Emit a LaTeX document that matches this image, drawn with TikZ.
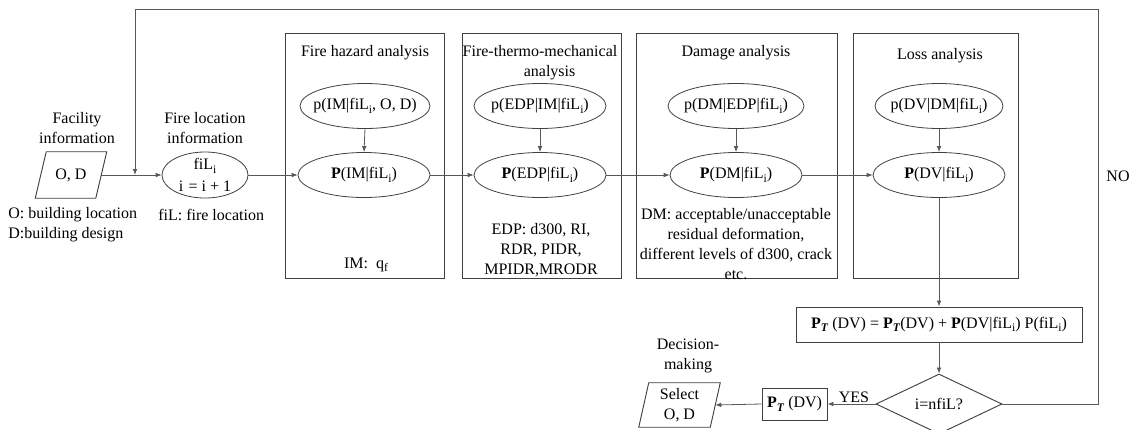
\documentclass[tikz,border=0pt]{standalone}
\usepackage{fontspec}
\setmainfont{Liberation Serif}
\usetikzlibrary{shapes.geometric,arrows.meta,calc}
\newcommand\lo[1]{\raisebox{-0.45ex}{\fontsize{8.7}{8.7}\selectfont #1}}
\begin{document}
\begin{tikzpicture}[x=0.75pt,y=-0.75pt,
  font=\fontsize{12}{15}\selectfont,
  ln/.style={draw=black!65, line width=0.6pt},
  arr/.style={ln, -{Latex[length=4.5pt,width=3.5pt]}},
  panel/.style={draw=black!75, line width=0.7pt},
  ell/.style={ellipse, draw=black!75, line width=0.6pt, inner sep=0pt,
    minimum width=99pt, minimum height=33.75pt},
  txt/.style={align=center, inner sep=0pt},
  bx/.style={rectangle, draw=black!75, line width=0.7pt, inner sep=0pt}]

\useasboundingbox (0,0) rectangle (1137,429);

% panels
\draw[panel] (285,33) rectangle (444,278);
\draw[panel] (462,33) rectangle (621,278);
\draw[panel] (636,33) rectangle (837,278);
\draw[panel] (853,33) rectangle (1018,278);

% titles
\node[txt] (t1) at (365,53) {Fire hazard analysis};
\node[txt] (t2) at (540,62.5) {Fire-thermo-mechanical\\\hspace*{1.2em}analysis};
\node[txt] (t3) at (736,53) {Damage analysis};
\node[txt] (t4) at (940,56) {Loss analysis};

% facility
\node[txt] (fac) at (77,128) {Facility\\information};
\node[minimum width=45pt, minimum height=34.5pt, inner sep=0pt] (od) at (71,175) {O, D};
\draw[panel] ($(od.south west)+(-5.5,0)$) -- ($(od.north west)+(5.5,0)$)
  -- ($(od.north east)+(5.5,0)$) -- ($(od.south east)+(-5.5,0)$) -- cycle;
\node[txt, anchor=west] (odtxt) at (8,225) [align=left] {O: building location\\D:building design};

% fire location
\node[txt] (fli) at (205,128) {Fire location\\information};
\node[ell, minimum width=64.5pt, minimum height=34.5pt,
  label={[txt]center:fiL\lo{i}\\[1pt]i\,\,= i + 1}] (fil) at (205,175) {};
\node[txt, anchor=west] (filtxt) at (158,215) {fiL:\ fire location};

% ellipses
\node[ell, minimum width=97.5pt, label={center:p(IM|fiL\lo{i}, O, D)}] (pim1) at (365,106) {};
\node[ell, label={center:\textbf{P}(IM|fiL\lo{i})}] (pim) at (364,175) {};
\node[ell, label={center:p(EDP|IM|fiL\lo{i})}] (pedp1) at (540,106) {};
\node[ell, label={center:\textbf{P}(EDP|fiL\lo{i})}] (pedp) at (540,175) {};
\node[ell, minimum width=102pt, label={center:p(DM|EDP|fiL\lo{i})}] (pdm1) at (736,106) {};
\node[ell, label={center:\textbf{P}(DM|fiL\lo{i})}] (pdm) at (736,175) {};
\node[ell, minimum width=96pt, label={center:p(DV|DM|fiL\lo{i})}] (pdv1) at (939,106) {};
\node[ell, label={center:\textbf{P}(DV|fiL\lo{i})}] (pdv) at (939,175) {};

% bottom texts
\node[txt] (imq) at (366,265) {IM:\ \ q\lo{f}};
\node[txt] (edpt) at (541,250) {EDP: d300, RI,\\RDR, PIDR,\\MPIDR,MRODR};
\node[txt] (dmt) at (736,244) {DM: acceptable/unacceptable\\residual deformation,\\different levels of d300, crack\\etc.};

% lower chain
\node[bx, minimum width=214.5pt, minimum height=26.25pt] (pt) at (939,324.5)
  {\textbf{P}\lo{\textbf{\textit{T}}} (DV) = \textbf{P}\lo{\textbf{\textit{T}}}(DV) + \textbf{P}(DV|fiL\lo{i}) P(fiL\lo{i})};
\node[diamond, draw=black!75, line width=0.7pt, inner sep=0pt, minimum width=94.5pt,
  minimum height=45pt, label={center:i=nfiL?}] (dec) at (939,404) {};
\node[bx, minimum width=48.75pt, minimum height=24pt] (ptd) at (794.5,404)
  {\textbf{P}\lo{\textbf{\textit{T}}} (DV)};
\node[txt, minimum width=53.25pt, minimum height=33pt] (sel) at (679.5,405) {Select\\O, D};
\draw[panel] ($(sel.south west)+(-5,0)$) -- ($(sel.north west)+(5,0)$)
  -- ($(sel.north east)+(5,0)$) -- ($(sel.south east)+(-5,0)$) -- cycle;
\node[txt] (dmk) at (688,356) {Decision-\\making};

% connectors
\coordinate (j) at (135,175);
\coordinate (ne) at (1098,9);
\draw[arr] (od.east) -- (fil.west);
\draw[arr] (fil.east) -- (pim.west);
\draw[arr] (pim1.south) -- (pim.north);
\draw[arr] (pedp1.south) -- (pedp.north);
\draw[arr] (pdm1.south) -- (pdm.north);
\draw[arr] (pdv1.south) -- (pdv.north);
\draw[arr] (pim.east) -- (pedp.west);
\draw[arr] (pedp.east) -- (pdm.west);
\draw[arr] (pdm.east) -- (pdv.west);
\draw[arr] (pdv.south) -- (pt.north);
\draw[arr] (pt.south) -- (dec.north);
\draw[arr] (dec.west) -- node[above, inner sep=1pt, pos=0.45] (yes) {YES} (ptd.east);
\draw[arr] (ptd.west) -- (sel.east);
\draw[arr] (dec.east) -| (ne) -| (j);
\node[txt] (no) at (1118,176) {NO};
\end{tikzpicture}
\end{document}
